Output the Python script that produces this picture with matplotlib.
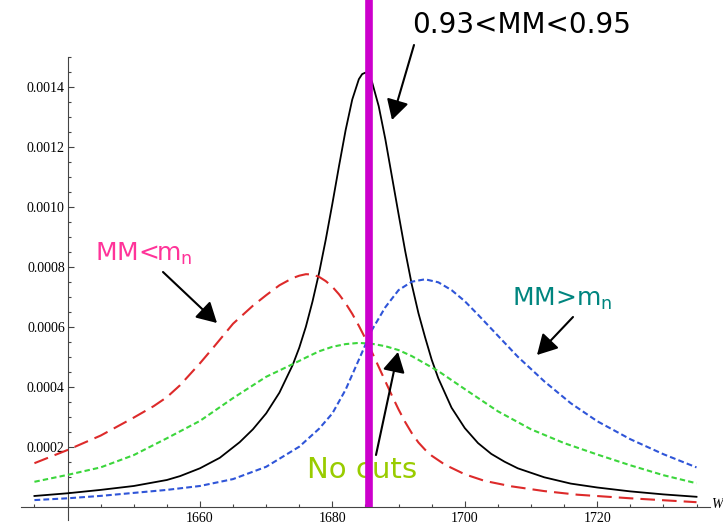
import matplotlib
matplotlib.use("Agg")
import matplotlib.pyplot as plt
import numpy as np

# distributions (x = mass, y = density)
black_mass = [1635, 1640, 1645, 1650, 1655, 1657, 1660, 1663, 1666, 1668, 1670, 1672, 1674,
              1675, 1676, 1677, 1678, 1679, 1680, 1681, 1682, 1683, 1684, 1684.5, 1685,
              1685.5, 1686, 1687, 1688, 1689, 1690, 1691, 1692, 1693, 1694, 1695, 1696, 1698,
              1700, 1702, 1704, 1706, 1708, 1712, 1716, 1720, 1725, 1730, 1735]
black_vals = [0.0000357, 0.0000447, 0.000056, 0.000069, 0.000089, 0.000102, 0.000128,
              0.000163, 0.000215, 0.000258, 0.000311, 0.000380, 0.000472, 0.000530, 0.000600,
              0.000684, 0.000780, 0.000890, 0.001010, 0.001135, 0.001255, 0.001357, 0.001425,
              0.001442, 0.001447, 0.001440, 0.001415, 0.001335, 0.001225, 0.001100, 0.000975,
              0.000852, 0.000740, 0.000645, 0.000565, 0.000490, 0.000428, 0.000330, 0.000262,
              0.000212, 0.000176, 0.000150, 0.000128, 0.000098, 0.000077, 0.000064, 0.000051,
              0.000041, 0.000033]

red_mass = [1635, 1640, 1645, 1650, 1653, 1655, 1657, 1660, 1662, 1665, 1668, 1670, 1672,
            1674, 1675, 1676, 1677, 1678, 1679, 1680, 1681, 1682, 1683, 1684, 1685, 1686,
            1687, 1688, 1689, 1690, 1691, 1692, 1693, 1694, 1695, 1697, 1700, 1703, 1707,
            1712, 1717, 1725, 1735]
red_vals = [0.000145, 0.000189, 0.000237, 0.000297, 0.000335, 0.000365, 0.000405, 0.000478,
            0.000530, 0.000610, 0.000670, 0.000705, 0.000738, 0.000762, 0.000770, 0.000775,
            0.000774, 0.000766, 0.000752, 0.000733, 0.000708, 0.000678, 0.000643, 0.000603,
            0.000560, 0.000514, 0.000466, 0.000418, 0.000370, 0.000324, 0.000282, 0.000245,
            0.000214, 0.000190, 0.000170, 0.000140, 0.000108, 0.000086, 0.000068, 0.000052,
            0.000040, 0.000028, 0.000015]

green_mass = [1635, 1640, 1645, 1650, 1655, 1660, 1665, 1670, 1674, 1676, 1678, 1680, 1682,
              1684, 1686, 1688, 1690, 1692, 1696, 1700, 1705, 1710, 1715, 1720, 1725, 1730,
              1735]
green_vals = [0.000083, 0.000106, 0.000131, 0.000172, 0.000228, 0.000286, 0.000362, 0.000433,
              0.000475, 0.000497, 0.000518, 0.000533, 0.000542, 0.000546, 0.000543, 0.000535,
              0.000522, 0.000502, 0.000452, 0.000392, 0.000318, 0.000258, 0.000212, 0.000174,
              0.000138, 0.000105, 0.000078]

blue_mass = [1635, 1640, 1645, 1650, 1655, 1660, 1665, 1670, 1675, 1678, 1680, 1682, 1684,
             1686, 1688, 1690, 1692, 1694, 1696, 1698, 1700, 1702, 1705, 1708, 1712, 1716,
             1720, 1725, 1730, 1735]
blue_vals = [0.000022, 0.000028, 0.000036, 0.000046, 0.000056, 0.000069, 0.000092, 0.000133,
             0.000200, 0.000260, 0.000311, 0.000390, 0.000490, 0.000590, 0.000665, 0.000722,
             0.000750, 0.000758, 0.000748, 0.000722, 0.000685, 0.000640, 0.000570, 0.000500,
             0.000418, 0.000345, 0.000285, 0.000225, 0.000175, 0.000131]

cut_mass = 1685.5
x_major = [1660, 1680, 1700, 1720]
y_major = [0.0002, 0.0004, 0.0006, 0.0008, 0.0010, 0.0012, 0.0014]

plt.rcParams["font.family"] = "Liberation Serif"
plt.rcParams["mathtext.default"] = "regular"

fig = plt.figure(figsize=(7.23, 5.27), dpi=100)
ax = fig.add_axes([0, 0, 1, 1])

ylo, yhi = -0.0000677, 0.001689
ax.set_xlim(1629.8, 1739.0)
ax.set_ylim(ylo, yhi)

ax.plot(black_mass, black_vals, color="black", lw=1.3, zorder=3)
ax.plot(red_mass, red_vals, color="#dd2a2a", lw=1.5, dashes=(7, 3.4), zorder=3)
ax.plot(green_mass, green_vals, color="#3cd63c", lw=1.5, dashes=(2.6, 1.5), zorder=3)
ax.plot(blue_mass, blue_vals, color="#2f55d8", lw=1.5, dashes=(2.8, 1.5), zorder=3)

# cut marker
ax.axvline(cut_mass, ymin=(0 - ylo) / (yhi - ylo), ymax=1, color="#cc00cc", lw=5.5,
           solid_capstyle="butt", zorder=10)

# Mathematica-like axes
for s in ["top", "right"]:
    ax.spines[s].set_visible(False)
ax.spines["left"].set_position(("data", 1640))
ax.spines["bottom"].set_position(("data", 0))
ax.spines["left"].set_bounds(-0.000045, 0.0015)
ax.spines["bottom"].set_bounds(1633, 1737)
for s in ["left", "bottom"]:
    ax.spines[s].set_color("#444444")
    ax.spines[s].set_linewidth(0.8)

ax.set_xticks(x_major)
ax.set_xticks(np.arange(1635, 1740, 5), minor=True)
ax.set_yticks(y_major)
ax.set_yticks(np.arange(0.00005, 0.00151, 0.00005), minor=True)
ax.yaxis.set_major_formatter(plt.FormatStrFormatter("%.4f"))
ax.tick_params(which="both", direction="in", color="#444444", width=0.8, labelsize=10)
ax.tick_params(which="major", length=4)
ax.tick_params(which="minor", length=2.5)
ax.tick_params(axis="y", pad=2)
ax.tick_params(axis="x", pad=4)

ax.text(711 / 723, 1 - 505 / 527, "W", transform=ax.transAxes, ha="left", va="center",
        fontsize=10, style="italic")


def fp(x, y):
    return (x / 723, 1 - y / 527)


ann = dict(family="DejaVu Sans", transform=ax.transAxes, ha="left", va="baseline")
ax.text(*fp(412, 33), "0.93<MM<0.95", fontsize=20, color="black", **ann)
ax.text(*fp(95, 261), "MM<m$_n$", fontsize=18, color="#ff3399", **ann)
ax.text(*fp(512, 306), "MM>m$_n$", fontsize=18, color="#00857f", **ann)
ax.text(*fp(307, 478), "No cuts", fontsize=21, color="#99cc00", zorder=5, **ann)

arrow = dict(arrowstyle="-|>,head_length=0.61,head_width=0.34", mutation_scale=20,
             lw=1.5, color="black", shrinkA=0, shrinkB=0)
for tail, tip in [((414, 45), (392, 120)), ((163, 272), (217, 323)),
                  ((573, 317), (537, 355)), ((376, 455), (398, 352))]:
    ax.annotate("", xy=fp(*tip), xytext=fp(*tail), xycoords="axes fraction",
                textcoords="axes fraction", arrowprops=arrow, zorder=6)

plt.savefig("out.png", dpi=100)
